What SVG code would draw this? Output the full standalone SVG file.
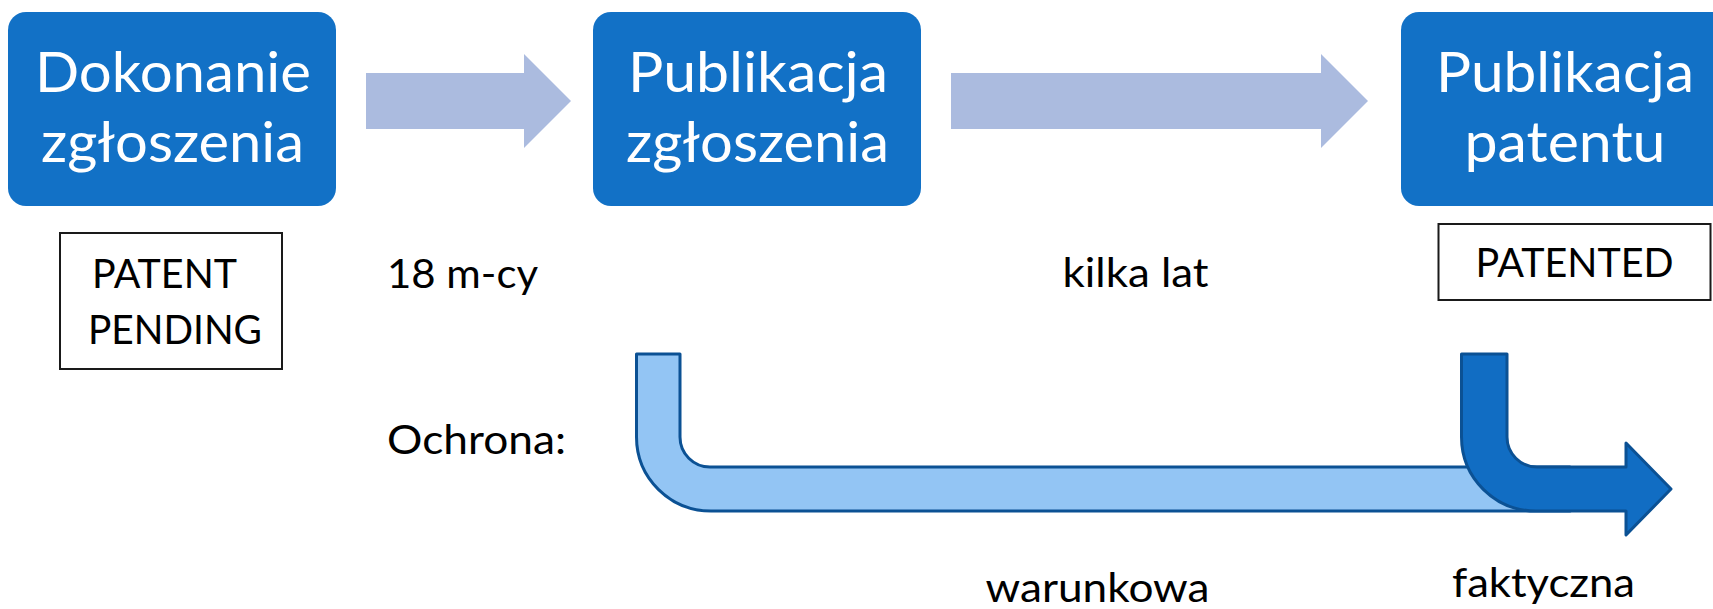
<svg xmlns="http://www.w3.org/2000/svg" width="1713" height="609" viewBox="0 0 1713 609">
<style>
.box{fill:#1271c6}
.bt{fill:#ffffff;font-family:Lato,"Open Sans",sans-serif;font-size:56px}
.lt{fill:#000000;font-family:Lato,"Open Sans",sans-serif;font-size:41px}
.tag{fill:#ffffff;stroke:#1a1a1a;stroke-width:2}
.fat{fill:#abbbdf}
.light{fill:#93c5f4;stroke:#0b5194;stroke-width:3;stroke-linejoin:round}
.dark{fill:#116dc3;stroke:#0b5194;stroke-width:3;stroke-linejoin:round}
</style>
<rect width="1713" height="609" fill="#ffffff"/>
<g id="connectors">
<polygon class="fat" points="366,73 524,73 524,54 571,101 524,148 524,129 366,129"/>
<polygon class="fat" points="951,73 1321,73 1321,54 1368,101 1321,148 1321,129 951,129"/>
</g>
<g id="node-dokonanie">
<rect class="box" x="8" y="12" width="328" height="194" rx="18"/>
<text class="bt" x="35" y="92" textLength="276" lengthAdjust="spacingAndGlyphs">Dokonanie</text>
<text class="bt" x="41" y="162" textLength="263" lengthAdjust="spacingAndGlyphs">zgłoszenia</text>
</g>
<g id="node-publikacja-zgloszenia">
<rect class="box" x="593" y="12" width="328" height="194" rx="18"/>
<text class="bt" x="628" y="92" textLength="260" lengthAdjust="spacingAndGlyphs">Publikacja</text>
<text class="bt" x="626" y="162" textLength="263" lengthAdjust="spacingAndGlyphs">zgłoszenia</text>
</g>
<g id="node-publikacja-patentu">
<rect class="box" x="1401" y="12" width="328" height="194" rx="18"/>
<text class="bt" x="1436" y="92" textLength="258" lengthAdjust="spacingAndGlyphs">Publikacja</text>
<text class="bt" x="1464.5" y="162" textLength="201" lengthAdjust="spacingAndGlyphs">patentu</text>
</g>
<g id="node-patent-pending">
<rect class="tag" x="60" y="233" width="222" height="136"/>
<text class="lt" x="92" y="288" textLength="145" lengthAdjust="spacingAndGlyphs">PATENT</text>
<text class="lt" x="88" y="344" textLength="174" lengthAdjust="spacingAndGlyphs">PENDING</text>
</g>
<g id="node-patented">
<rect class="tag" x="1438.5" y="224" width="272" height="76"/>
<text class="lt" x="1475.5" y="277" textLength="198" lengthAdjust="spacingAndGlyphs">PATENTED</text>
</g>
<g id="labels">
<text class="lt" x="387" y="288" textLength="151" lengthAdjust="spacingAndGlyphs">18 m-cy</text>
<text class="lt" x="1062.5" y="287" textLength="146" lengthAdjust="spacingAndGlyphs">kilka lat</text>
<text class="lt" x="387" y="454" textLength="179" lengthAdjust="spacingAndGlyphs">Ochrona:</text>
<text class="lt" x="985.5" y="602" textLength="224" lengthAdjust="spacingAndGlyphs">warunkowa</text>
<text class="lt" x="1452" y="597" textLength="183" lengthAdjust="spacingAndGlyphs">faktyczna</text>
</g>
<g id="protection-arrows">
<path id="ochrona-warunkowa" class="light" d="M636.5,354 H680 V437 A30,30 0 0 0 710,467 H1570 V511 H711 A74.5,74 0 0 1 636.5,437 Z"/>
<path id="ochrona-faktyczna" class="dark" d="M1461.5,354 H1507 V437 A30,30 0 0 0 1537,467 H1626 V443 L1671,489 L1626,535 V511 H1536 A74.5,74 0 0 1 1461.5,437 Z"/>
</g>
</svg>
